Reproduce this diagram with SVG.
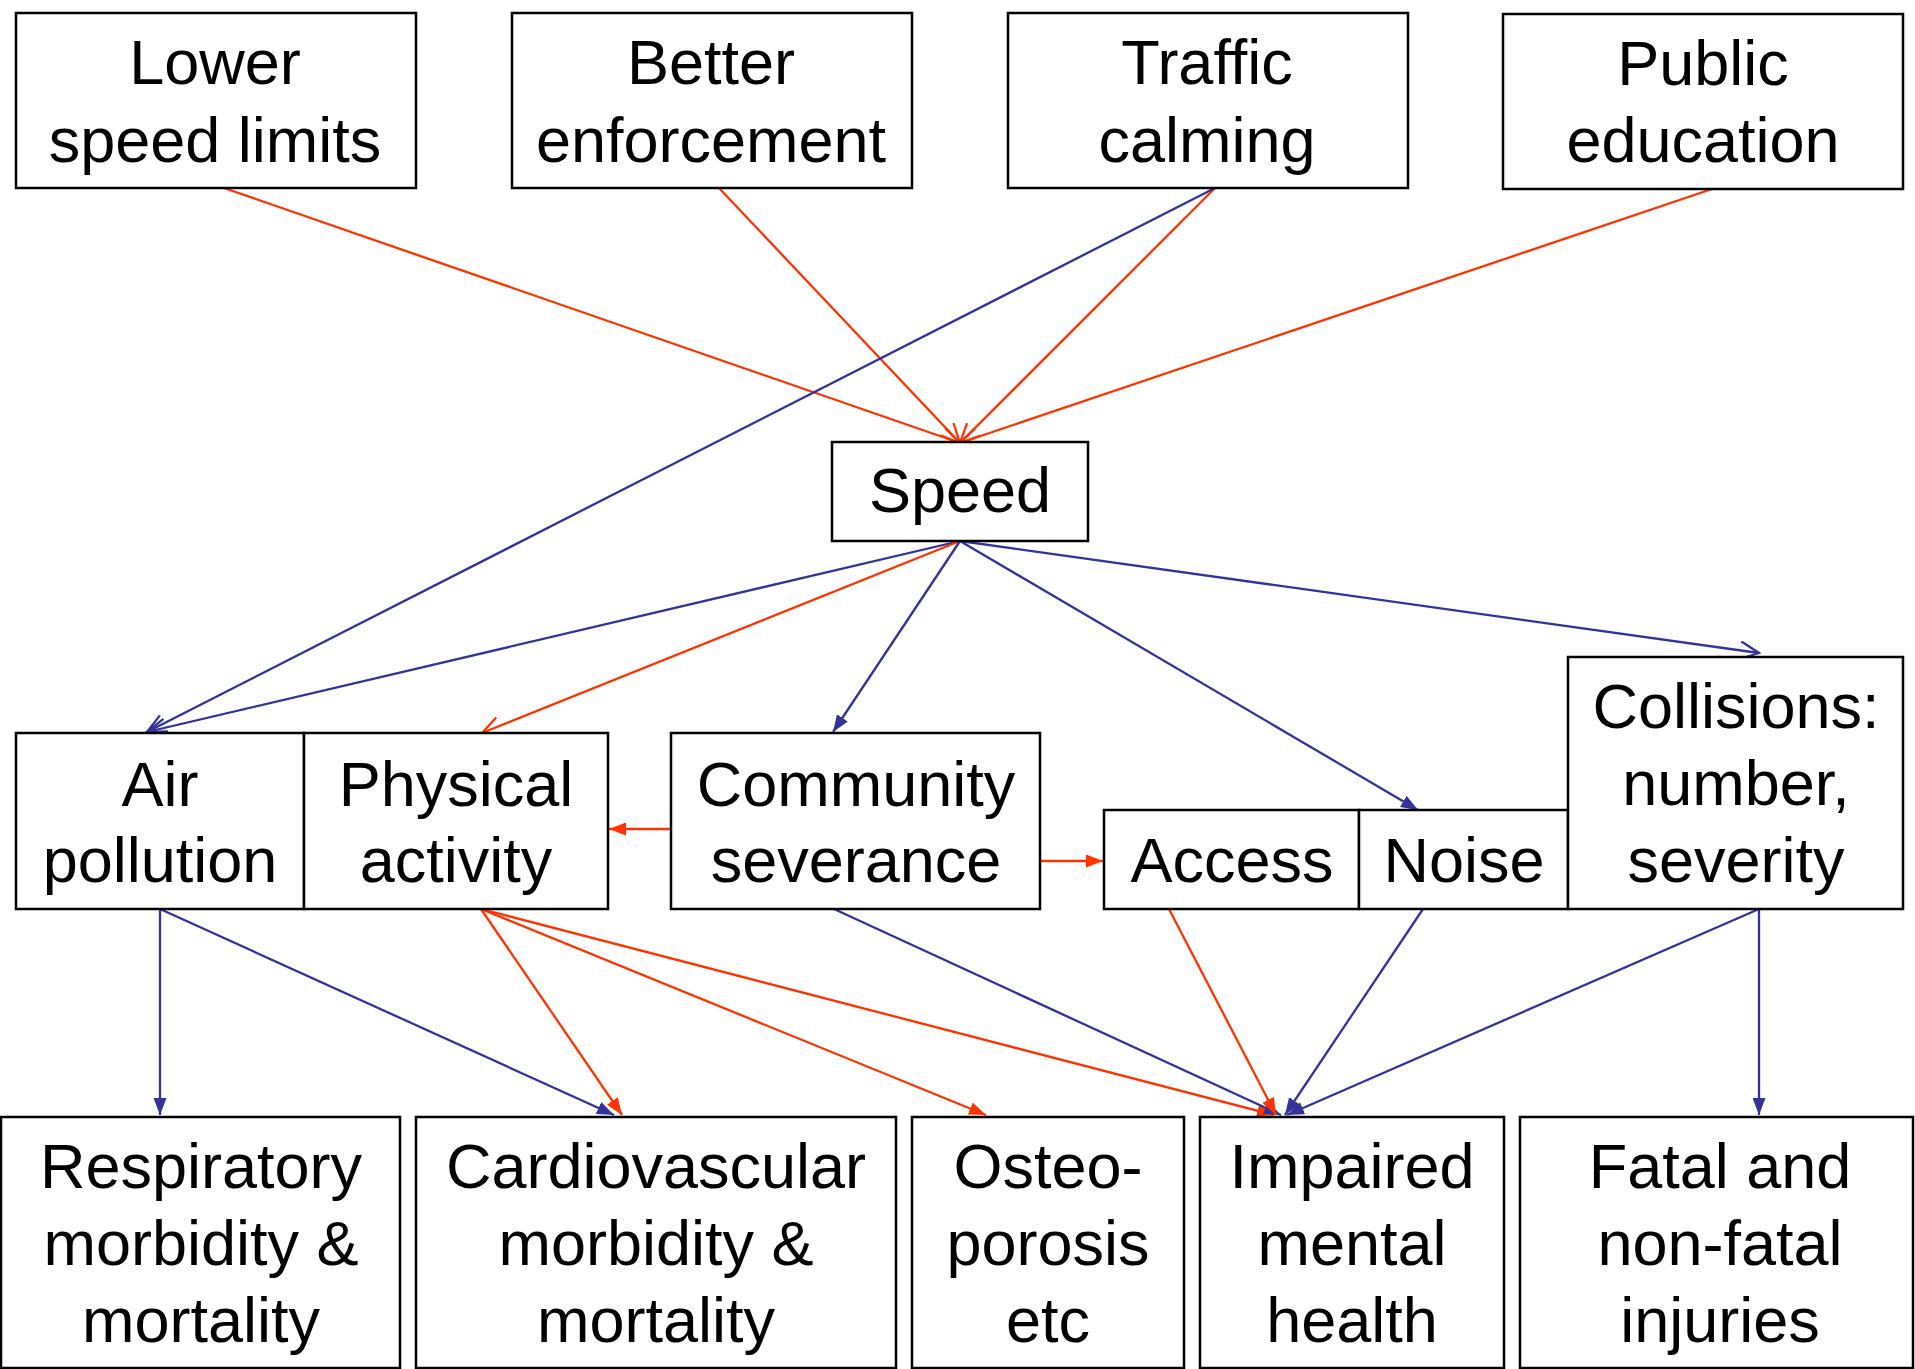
<svg xmlns="http://www.w3.org/2000/svg" width="1915" height="1369" viewBox="0 0 1915 1369">
<style>
.box{fill:#fff;stroke:#000;stroke-width:2.5}
.t{font-family:"Liberation Sans",Arial,sans-serif;font-size:63px;fill:#000;text-anchor:middle}
.r{stroke:#ff3300;stroke-width:2.3;fill:none}
.b{stroke:#333399;stroke-width:2.3;fill:none}
</style>
<defs>
<marker id="ovr" markerUnits="userSpaceOnUse" viewBox="0 0 22 20" refX="20" refY="10" markerWidth="22" markerHeight="20" orient="auto"><path d="M1,1 L20,10 L1,19" fill="none" stroke="#ff3300" stroke-width="2.3"/></marker>
<marker id="ovb" markerUnits="userSpaceOnUse" viewBox="0 0 22 20" refX="20" refY="10" markerWidth="22" markerHeight="20" orient="auto"><path d="M1,1 L20,10 L1,19" fill="none" stroke="#333399" stroke-width="2.3"/></marker>
<marker id="fr" markerUnits="userSpaceOnUse" viewBox="0 0 17 13" refX="17" refY="6.5" markerWidth="17" markerHeight="13" orient="auto"><path d="M0,0 L17,6.5 L0,13 z" fill="#ff3300"/></marker>
<marker id="fb" markerUnits="userSpaceOnUse" viewBox="0 0 17 13" refX="17" refY="6.5" markerWidth="17" markerHeight="13" orient="auto"><path d="M0,0 L17,6.5 L0,13 z" fill="#333399"/></marker>
</defs>

<g id="connectors">
<line class="r" x1="224" y1="188" x2="960" y2="443" marker-end="url(#ovr)"/>
<line class="r" x1="719" y1="188" x2="960" y2="443" marker-end="url(#ovr)"/>
<line class="r" x1="1215" y1="188" x2="960" y2="443" marker-end="url(#ovr)"/>
<line class="r" x1="1712" y1="189" x2="960" y2="443" marker-end="url(#ovr)"/>
<line class="b" x1="1215" y1="188" x2="147" y2="732" marker-end="url(#ovb)"/>
<line class="b" x1="960" y1="541" x2="147" y2="732" marker-end="url(#ovb)"/>
<line class="b" x1="960" y1="541" x2="1759" y2="653" marker-end="url(#ovb)"/>
<line class="r" x1="960" y1="541" x2="482" y2="733" marker-end="url(#ovr)"/>
<line class="b" x1="960" y1="541" x2="833" y2="732" marker-end="url(#fb)"/>
<line class="b" x1="960" y1="541" x2="1418" y2="810" marker-end="url(#fb)"/>
<line class="r" x1="671" y1="829" x2="609" y2="829" marker-end="url(#fr)"/>
<line class="r" x1="1040" y1="861" x2="1103" y2="861" marker-end="url(#fr)"/>
<line class="b" x1="160" y1="909" x2="160" y2="1115" marker-end="url(#fb)"/>
<line class="b" x1="160" y1="909" x2="614" y2="1115" marker-end="url(#fb)"/>
<line class="r" x1="481" y1="909" x2="622" y2="1115" marker-end="url(#fr)"/>
<line class="r" x1="481" y1="909" x2="986" y2="1115" marker-end="url(#fr)"/>
<line class="r" x1="481" y1="909" x2="1274" y2="1115" marker-end="url(#fr)"/>
<line class="b" x1="834" y1="909" x2="1281" y2="1115" marker-end="url(#fb)"/>
<line class="r" x1="1169" y1="909" x2="1276" y2="1115" marker-end="url(#fr)"/>
<line class="b" x1="1423" y1="909" x2="1285" y2="1115" marker-end="url(#fb)"/>
<line class="b" x1="1759" y1="909" x2="1287" y2="1115" marker-end="url(#fb)"/>
<line class="b" x1="1759" y1="909" x2="1759" y2="1115" marker-end="url(#fb)"/>
</g>

<g id="lower-speed-limits"><rect class="box" x="16" y="13" width="400" height="175"/><text class="t" x="215" y="84">Lower</text><text class="t" x="215" y="162">speed limits</text></g>
<g id="better-enforcement"><rect class="box" x="512" y="13" width="400" height="175"/><text class="t" x="711" y="84">Better</text><text class="t" x="711" y="162">enforcement</text></g>
<g id="traffic-calming"><rect class="box" x="1008" y="13" width="400" height="175"/><text class="t" x="1207" y="84">Traffic</text><text class="t" x="1207" y="162">calming</text></g>
<g id="public-education"><rect class="box" x="1503" y="14" width="400" height="175"/><text class="t" x="1703" y="85">Public</text><text class="t" x="1703" y="162">education</text></g>

<g id="speed"><rect class="box" x="832" y="442" width="256" height="99"/><text class="t" x="960" y="512">Speed</text></g>

<g id="air-pollution"><rect class="box" x="16" y="733" width="288" height="176"/><text class="t" x="160" y="806">Air</text><text class="t" x="160" y="882">pollution</text></g>
<g id="physical-activity"><rect class="box" x="304" y="733" width="304" height="176"/><text class="t" x="456" y="806">Physical</text><text class="t" x="456" y="882">activity</text></g>
<g id="community-severance"><rect class="box" x="671" y="733" width="369" height="176"/><text class="t" x="856" y="806">Community</text><text class="t" x="856" y="882">severance</text></g>
<g id="access"><rect class="box" x="1104" y="810" width="255" height="99"/><text class="t" x="1232" y="882">Access</text></g>
<g id="noise"><rect class="box" x="1359" y="810" width="209" height="99"/><text class="t" x="1464" y="882">Noise</text></g>
<g id="collisions"><rect class="box" x="1568" y="657" width="335" height="252"/><text class="t" x="1736" y="728">Collisions:</text><text class="t" x="1736" y="805">number,</text><text class="t" x="1736" y="882">severity</text></g>

<g id="respiratory"><rect class="box" x="1" y="1117" width="399" height="251"/><text class="t" x="201" y="1188">Respiratory</text><text class="t" x="201" y="1265">morbidity &amp;</text><text class="t" x="201" y="1342">mortality</text></g>
<g id="cardiovascular"><rect class="box" x="416" y="1117" width="480" height="251"/><text class="t" x="656" y="1188">Cardiovascular</text><text class="t" x="656" y="1265">morbidity &amp;</text><text class="t" x="656" y="1342">mortality</text></g>
<g id="osteoporosis"><rect class="box" x="912" y="1117" width="272" height="251"/><text class="t" x="1048" y="1188">Osteo-</text><text class="t" x="1048" y="1265">porosis</text><text class="t" x="1048" y="1342">etc</text></g>
<g id="impaired-mental-health"><rect class="box" x="1200" y="1117" width="304" height="251"/><text class="t" x="1352" y="1188">Impaired</text><text class="t" x="1352" y="1265">mental</text><text class="t" x="1352" y="1342">health</text></g>
<g id="fatal-injuries"><rect class="box" x="1520" y="1117" width="393" height="251"/><text class="t" x="1720" y="1188">Fatal and</text><text class="t" x="1720" y="1265">non-fatal</text><text class="t" x="1720" y="1342">injuries</text></g>
</svg>
